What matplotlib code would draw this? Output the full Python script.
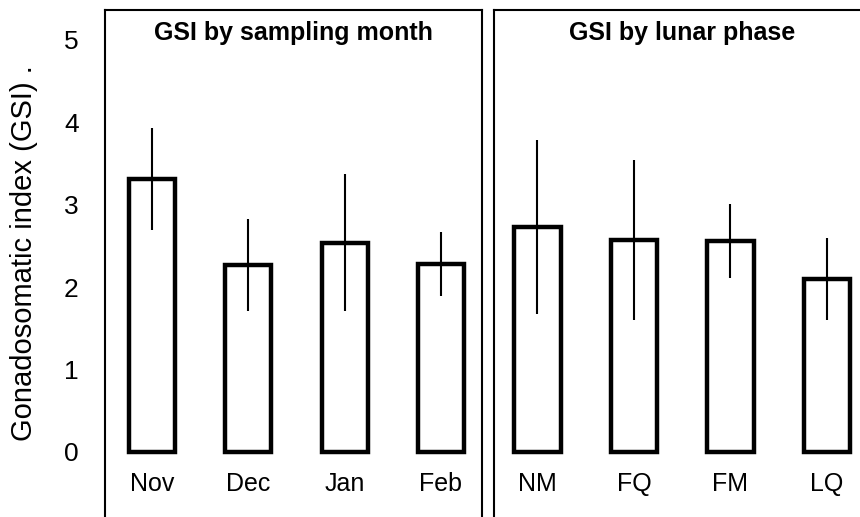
import matplotlib
matplotlib.use("Agg")
import matplotlib.pyplot as plt

plt.rcParams['font.family'] = ['Liberation Sans', 'DejaVu Sans']

# Data
months = ["Nov", "Dec", "Jan", "Feb"]
month_gsi = [3.31, 2.27, 2.54, 2.28]
month_err = [0.62, 0.56, 0.83, 0.39]

phases = ["NM", "FQ", "FM", "LQ"]
phase_gsi = [2.73, 2.57, 2.56, 2.10]
phase_err = [1.06, 0.97, 0.45, 0.50]

yticks = [0, 1, 2, 3, 4, 5]

W, H = 860, 517
fig = plt.figure(figsize=(W / 100, H / 100), dpi=100)

top_px = 10
ax1 = fig.add_axes([105 / W, 0, 377 / W, (H - top_px) / H])
ax2 = fig.add_axes([494 / W, 0, 377 / W, (H - top_px) / H])

ylo, yhi = -0.789, 5.364

def panel(ax, cats, vals, errs, title, xl):
    x = list(range(len(cats)))
    ax.bar(x, vals, width=0.48, facecolor='white', edgecolor='black',
           linewidth=3.2, zorder=2)
    ax.errorbar(x, vals, yerr=errs, fmt='none', ecolor='black',
                elinewidth=1.5, capsize=0, zorder=3)
    ax.set_ylim(ylo, yhi)
    ax.set_xlim(*xl)
    ax.set_xticks([])
    for xi, c in zip(x, cats):
        ax.text(xi, -0.39, c, ha='center', va='center', fontsize=18)
    for s in ['top', 'left', 'right']:
        ax.spines[s].set_linewidth(1.5)
    ax.spines['bottom'].set_visible(False)
    ax.text(0.5, (yhi - 0.285 - ylo) / (yhi - ylo), title,
            transform=ax.transAxes, ha='center', va='center',
            fontsize=18, fontweight='bold')

panel(ax1, months, month_gsi, month_err, "GSI by sampling month", (-0.488, 3.426))
panel(ax2, phases, phase_gsi, phase_err, "GSI by lunar phase", (-0.45, 3.456))

ax1.set_yticks(yticks)
ax1.set_yticklabels([str(t) for t in yticks], fontsize=19)
ax1.tick_params(axis='y', length=0, pad=19)
ax2.set_yticks([])

fig.text(24 / W, 1 - 253 / H, "Gonadosomatic index (GSI) .", rotation=90,
         ha='center', va='center', fontsize=21)

fig.savefig("out.png", dpi=100)
